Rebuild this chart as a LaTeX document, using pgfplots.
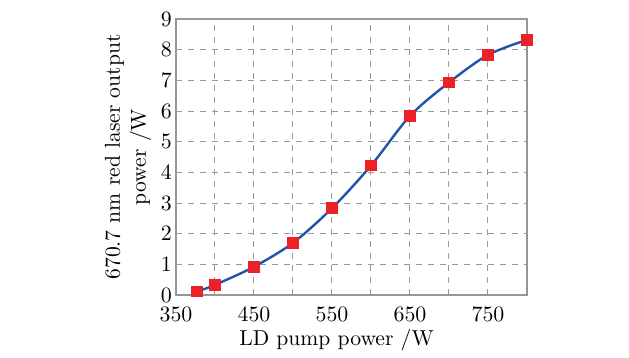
\documentclass[border=0pt]{standalone}
\usepackage{pgfplots}
\pgfplotsset{compat=1.18}
\definecolor{linblue}{RGB}{33,84,168}
\definecolor{mkred}{RGB}{236,32,39}
\definecolor{frame}{RGB}{150,150,150}
\begin{document}
\begin{tikzpicture}
\begin{axis}[
  name=ax,
  scale only axis,
  width=175.5pt, height=138pt,
  xmin=350, xmax=800, ymin=0, ymax=9,
  xtick={350,450,550,650,750},
  minor xtick={400,500,600,700,800},
  ytick={0,1,...,9},
  grid=both,
  major grid style={dashed, gray!80, line width=0.5pt},
  minor grid style={dashed, gray!80, line width=0.5pt},
  major tick length=0pt, minor tick length=0pt,
  axis line style={frame, line width=0.6pt},
  tick label style={font=\fontsize{10.8}{13}\selectfont},
  label style={font=\fontsize{10.8}{13}\selectfont},
  xticklabel style={yshift=-2.5pt},
  yticklabel style={xshift=1.5pt},
  xlabel={LD pump power /W},
  xlabel style={yshift=3pt, xshift=-7.5pt},
  ylabel={670.7 nm red laser output\\power /W},
  ylabel style={align=center, yshift=-2pt},
]
\addplot[linblue, line width=1.2pt, smooth, tension=0.5, mark=square*, mark size=2.3pt,
  mark options={fill=mkred, draw=mkred, solid}]
coordinates {
(377,0.11) (400,0.33) (450,0.92) (500,1.70) (550,2.83) (600,4.22)
(650,5.84) (700,6.93) (750,7.83) (800,8.32)
};
\end{axis}
\useasboundingbox ([shift={(-88pt,-25pt)}]ax.south west) rectangle ([shift={(226.5pt,147.5pt)}]ax.south west);
\end{tikzpicture}
\end{document}
